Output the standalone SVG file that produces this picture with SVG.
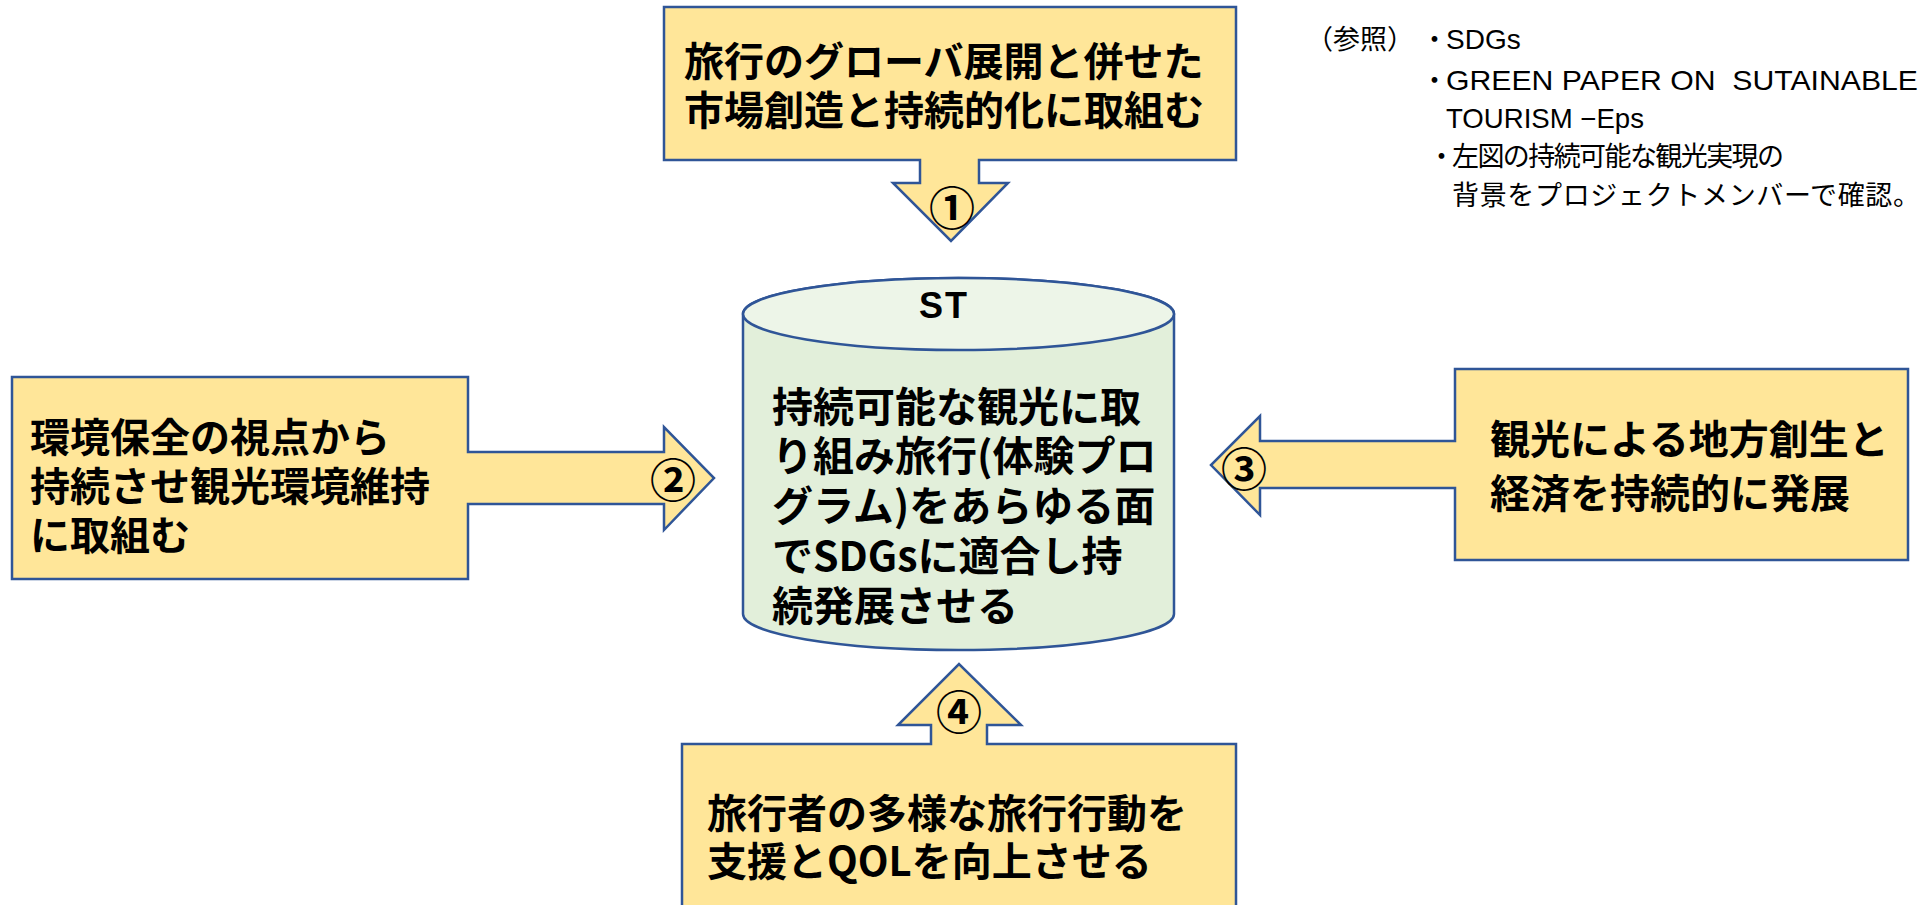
<svg xmlns="http://www.w3.org/2000/svg" width="1928" height="905" viewBox="0 0 1928 905">
<style>
.box{fill:#FFE699;stroke:#2F5597;stroke-width:2.5;stroke-linejoin:miter}
.t{font-family:"Noto Sans CJK JP","Noto Sans",sans-serif;font-weight:bold;font-size:40px;fill:#000}
.num{font-family:"Noto Sans CJK JP","Noto Sans",sans-serif;font-weight:bold;font-size:46px;fill:#000;text-anchor:middle;dominant-baseline:central}
.ref{font-family:"Noto Sans CJK JP","Noto Sans",sans-serif;font-size:27px;fill:#000;white-space:pre}
.lat{font-family:"Liberation Sans",Arial,sans-serif;font-size:28px}
.cyl{fill:#E2EFDA;stroke:#2F5597;stroke-width:2.5}
.cyltop{fill:#EDF5E8;stroke:#2F5597;stroke-width:2.5}
</style>
<rect width="1928" height="905" fill="#FFFFFF"/>
<g id="connectors"></g>
<g id="node-st">
<path class="cyl" d="M743,314 L743,614 A215.5,36 0 0 0 1174,614 L1174,314 A215.5,36 0 0 0 743,314 Z"/>
<ellipse class="cyltop" cx="958.5" cy="314" rx="215.5" ry="36"/>
<text x="944" y="318" text-anchor="middle" style="font-family:'Liberation Sans',Arial,sans-serif;font-weight:bold;font-size:36px;letter-spacing:2px;fill:#000">ST</text>
<text class="t" x="772" y="422" style="font-size:41px">持続可能な観光に取</text>
<text class="t" x="772" y="471" style="font-size:41px">り組み旅行(体験プロ</text>
<text class="t" x="772" y="521" style="font-size:41px">グラム)をあらゆる面</text>
<text class="t" x="772" y="571" style="font-size:41px">でSDGsに適合し持</text>
<text class="t" x="772" y="621" style="font-size:41px">続発展させる</text>
</g>
<g id="node-1">
<path class="box" d="M664,7 H1236 V160 H979 V183 H1008 L951,241 L893,183 H920 V160 H664 Z"/>
<text class="t" x="684" y="76">旅行のグローバ展開と併せた</text>
<text class="t" x="684" y="125">市場創造と持続的化に取組む</text>
<text class="num" x="952" y="205">①</text>
</g>
<g id="node-2">
<path class="box" d="M12,377 H468 V452 H664 V427 L714,478 L664,530 V504 H468 V579 H12 Z"/>
<text class="t" x="30" y="452">環境保全の視点から</text>
<text class="t" x="30" y="501">持続させ観光環境維持</text>
<text class="t" x="30" y="550">に取組む</text>
<text class="num" x="673" y="477">②</text>
</g>
<g id="node-3">
<path class="box" d="M1455,369 H1908 V560 H1455 V488 H1260 V515 L1211,465 L1260,416 V441 H1455 Z"/>
<text class="t" x="1490" y="454">観光による地方創生と</text>
<text class="t" x="1490" y="508">経済を持続的に発展</text>
<text class="num" x="1244" y="466">③</text>
</g>
<g id="node-4">
<path class="box" d="M682,744 H931 V725 H898 L959,664 L1021,725 H987 V744 H1236 V910 H682 Z"/>
<text class="t" x="707" y="828">旅行者の多様な旅行行動を</text>
<text class="t" x="707" y="876">支援とQOLを向上させる</text>
<text class="num" x="959" y="709">④</text>
</g>
<g id="reference-note">
<text class="ref" y="49"><tspan x="1306">（参照）</tspan><tspan x="1421">・</tspan><tspan class="lat" x="1446">SDGs</tspan></text>
<text class="ref" y="90"><tspan x="1421">・</tspan><tspan class="lat" x="1446" textLength="472" lengthAdjust="spacingAndGlyphs">GREEN PAPER ON  SUTAINABLE</tspan></text>
<text class="ref lat" x="1446" y="128" textLength="198" lengthAdjust="spacingAndGlyphs">TOURISM −Eps</text>
<text class="ref" y="166"><tspan x="1428">・</tspan><tspan x="1452" textLength="332" lengthAdjust="spacing">左図の持続可能な観光実現の</tspan></text>
<text class="ref" x="1452" y="205" textLength="468" lengthAdjust="spacing">背景をプロジェクトメンバーで確認。</text>
</g>
</svg>
